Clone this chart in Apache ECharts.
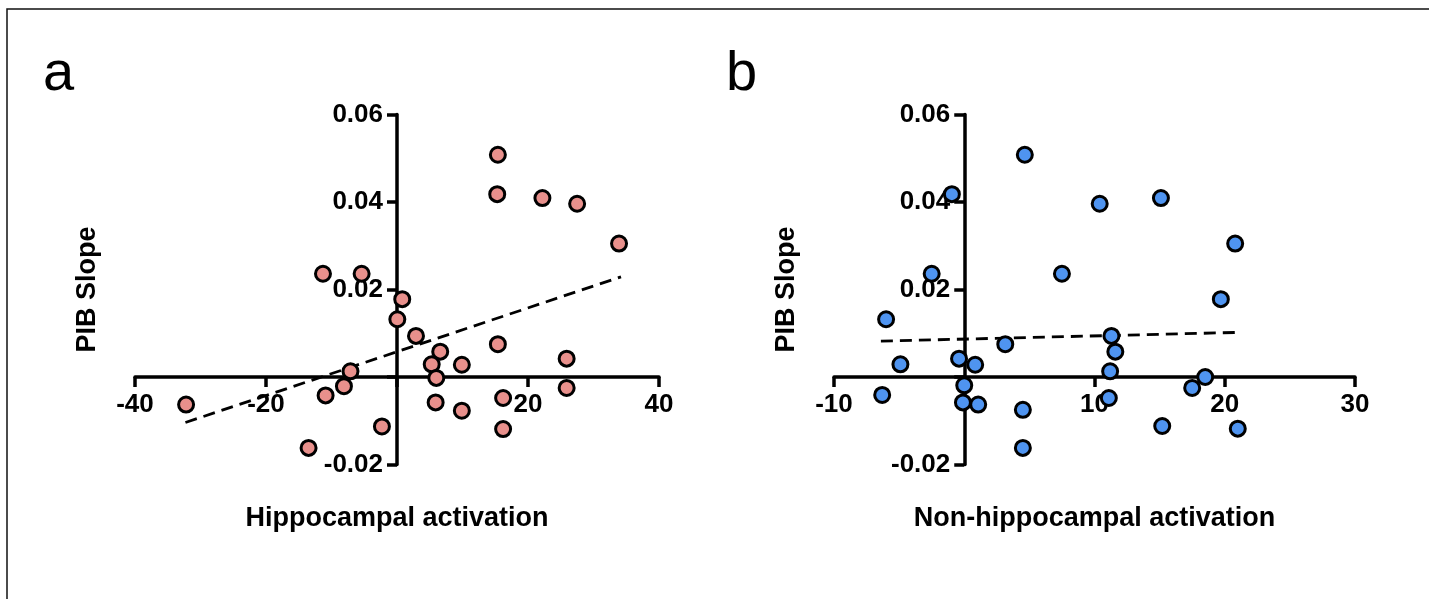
<!DOCTYPE html>
<html>
<head>
<meta charset="utf-8">
<title>PIB slope vs activation</title>
<script src="https://cdn.jsdelivr.net/npm/echarts@6/dist/echarts.min.js"></script>
<style>
  html, body {
    margin: 0;
    padding: 0;
    background: #ffffff;
  }
  .chart {
    width: 1429px;
    height: 599px;
  }
</style>
</head>
<body>
<div class="chart" id="main"></div>
<script>
// panel a - hippocampal activation
var hippoX = [15.4, 15.3, 22.2, 27.5, 33.9, -11.3, -5.4, 0.8, 0.05, 2.9, 15.4, 6.6, 5.3, 9.9,
  25.9, -7.1, 6.0, -8.1, 25.9, -10.9, -32.2, 5.9, 16.2, 9.9, -2.3, 16.2, -13.5];
var hippoPib = [0.0508, 0.0418, 0.0409, 0.0396, 0.0305, 0.0236, 0.0236, 0.0178, 0.0132, 0.0094, 0.0075, 0.0058, 0.0029, 0.0028,
  0.0042, 0.0013, -0.0002, -0.0021, -0.0025, -0.0042, -0.0063, -0.0058, -0.0048, -0.0077, -0.0113, -0.0119, -0.0162];
var hippoFitX = [-32.3, 34.2];
var hippoFitY = [-0.0104, 0.0229];

// panel b - non-hippocampal activation
var nonHippoX = [4.65, -0.95, 10.4, 15.1, 20.8, -2.5, 7.5, 19.7, -6.0, 11.3, 3.15, 11.6, -0.4, -4.9,
  0.84, 11.2, 18.5, 0.0, 17.5, -6.3, 11.1, -0.1, 1.07, 4.5, 15.2, 21.0, 4.5];
var nonHippoPib = [0.0508, 0.0418, 0.0396, 0.0409, 0.0305, 0.0236, 0.0236, 0.0178, 0.0132, 0.0094, 0.0075, 0.0058, 0.0042, 0.0029,
  0.0028, 0.0013, 0.0, -0.0019, -0.0025, -0.0041, -0.0048, -0.0058, -0.0063, -0.0075, -0.0112, -0.0118, -0.0162];
var nonHippoFitX = [-6.4, 21.1];
var nonHippoFitY = [0.0082, 0.0102];

var yTicks = { min: -0.02, max: 0.06, interval: 0.02 };
var xTicksA = { min: -40, max: 40, interval: 20 };
var xTicksB = { min: -10, max: 30, interval: 10 };

function pairs(xs, ys) {
  var out = [];
  for (var i = 0; i < xs.length; i++) out.push([xs[i], ys[i]]);
  return out;
}

var FONT = '"Liberation Sans", Arial, sans-serif';

// grid boxes, the axes cross at zero so they are shifted in by offset
var GRID_TOP = 114.5, GRID_H = 350;
var gridA = { left: 135, width: 524 };
var gridB = { left: 834, width: 521 };

function zeroShiftX(ticks, width) {
  return -(0 - ticks.min) / (ticks.max - ticks.min) * width;
}
function zeroShiftY() {
  return -(0 - yTicks.min) / (yTicks.max - yTicks.min) * GRID_H;
}

function hideZero(v) {
  return v === 0 ? '' : String(v);
}

function makeX(idx, ticks, name) {
  return {
    gridIndex: idx,
    type: 'value',
    position: 'bottom',
    offset: zeroShiftY(),
    min: ticks.min,
    max: ticks.max,
    interval: ticks.interval,
    name: name,
    nameLocation: 'middle',
    nameGap: 128,
    nameTextStyle: { fontFamily: FONT, fontWeight: 'bold', fontSize: 27, color: '#000' },
    axisLine: { show: true, onZero: false, lineStyle: { color: '#000', width: 3.5 } },
    axisTick: { show: true, length: 10, lineStyle: { color: '#000', width: 3.5 } },
    axisLabel: {
      margin: 15,
      formatter: hideZero,
      fontFamily: FONT, fontWeight: 'bold', fontSize: 26, color: '#000'
    },
    splitLine: { show: false }
  };
}

function makeY(idx, ticks, width, gap) {
  return {
    gridIndex: idx,
    type: 'value',
    position: 'left',
    offset: zeroShiftX(ticks, width),
    min: yTicks.min,
    max: yTicks.max,
    interval: yTicks.interval,
    name: 'PIB Slope',
    nameLocation: 'middle',
    nameGap: gap,
    nameTextStyle: { fontFamily: FONT, fontWeight: 'bold', fontSize: 27, color: '#000' },
    axisLine: { show: true, onZero: false, lineStyle: { color: '#000', width: 3.5 } },
    axisTick: { show: true, length: 10, lineStyle: { color: '#000', width: 3.5 } },
    axisLabel: {
      margin: 14,
      formatter: hideZero,
      fontFamily: FONT, fontWeight: 'bold', fontSize: 26, color: '#000'
    },
    splitLine: { show: false }
  };
}

function fitSeries(idx, xs, ys) {
  return {
    type: 'line',
    xAxisIndex: idx,
    yAxisIndex: idx,
    data: pairs(xs, ys),
    showSymbol: false,
    symbol: 'none',
    silent: true,
    z: 1,
    lineStyle: { color: '#000', width: 2.8, type: [12, 7] }
  };
}

function dotSeries(idx, xs, ys, color) {
  return {
    type: 'scatter',
    xAxisIndex: idx,
    yAxisIndex: idx,
    data: pairs(xs, ys),
    symbolSize: 15,
    z: 3,
    itemStyle: { color: color, borderColor: '#000', borderWidth: 3, opacity: 1 }
  };
}

var chart = echarts.init(document.getElementById('main'));

var option = {
  animation: false,
  backgroundColor: '#ffffff',
  title: [
    { text: 'a', left: 38, top: 42, textStyle: { fontFamily: FONT, fontWeight: 'normal', fontSize: 56, color: '#000' } },
    { text: 'b', left: 721, top: 42, textStyle: { fontFamily: FONT, fontWeight: 'normal', fontSize: 56, color: '#000' } }
  ],
  grid: [
    { left: gridA.left, top: GRID_TOP, width: gridA.width, height: GRID_H, containLabel: false, outerBoundsMode: 'none' },
    { left: gridB.left, top: GRID_TOP, width: gridB.width, height: GRID_H, containLabel: false, outerBoundsMode: 'none' }
  ],
  xAxis: [
    makeX(0, xTicksA, 'Hippocampal activation'),
    makeX(1, xTicksB, 'Non-hippocampal activation')
  ],
  yAxis: [
    makeY(0, xTicksA, gridA.width, 296),
    makeY(1, xTicksB, gridB.width, 164)
  ],
  series: [
    fitSeries(0, hippoFitX, hippoFitY),
    dotSeries(0, hippoX, hippoPib, '#E8908C'),
    fitSeries(1, nonHippoFitX, nonHippoFitY),
    dotSeries(1, nonHippoX, nonHippoPib, '#4F94F0')
  ],
  graphic: [
    {
      type: 'polyline',
      shape: { points: [[7, 599], [7, 9], [1429, 9]] },
      style: { stroke: '#111', lineWidth: 1.5, fill: null }
    }
  ]
};

chart.setOption(option);
</script>
</body>
</html>
